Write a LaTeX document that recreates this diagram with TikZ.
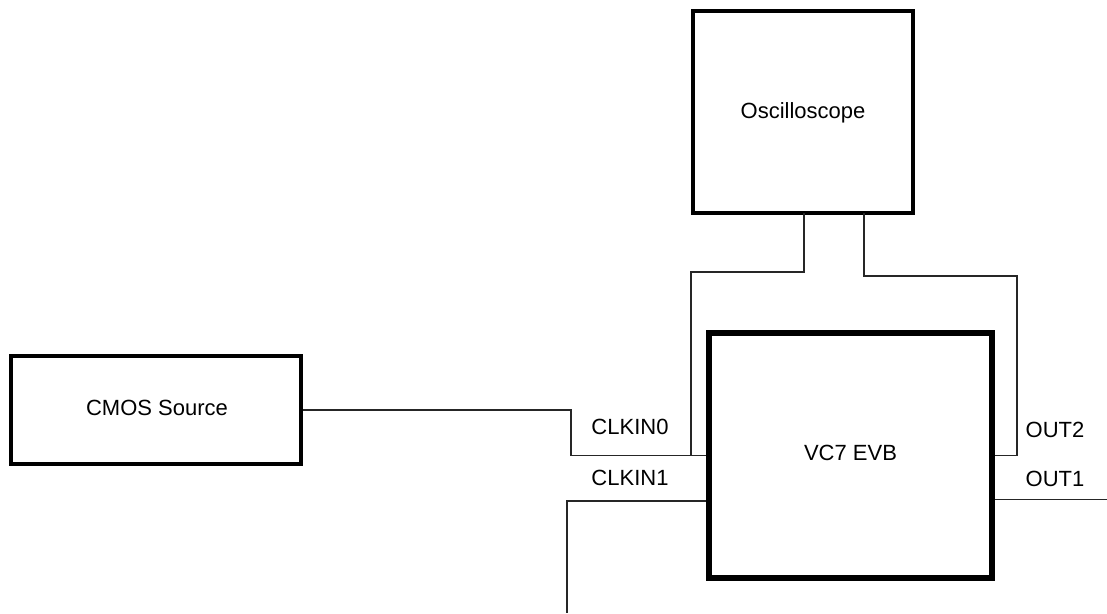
\documentclass[tikz,border=0pt]{standalone}
\usepackage{fontspec}
\setmainfont{Liberation Sans}
\begin{document}
\begin{tikzpicture}[x=1pt,y=-1pt,
  box/.style={draw, line width=4pt, rectangle, inner sep=0pt},
  wire/.style={line width=1.1pt, draw=black!85},
  lbl/.style={inner sep=0pt, font=\fontsize{22}{26}\selectfont, text height=0.72em, text depth=0pt}]
\useasboundingbox (0,0) rectangle (1107,613);
% boxes
\node[box, minimum width=290pt, minimum height=108pt] (cmos) at (156,410) {};
\node[box, minimum width=220pt, minimum height=202pt] (osc) at (803,112) {};
\node[box, minimum width=281pt, minimum height=243pt] (vc7) at (850.5,455.5) {};
% box texts
\node[lbl] (tcmos) at (157,411.5) {CMOS Source};
\node[lbl] (tosc) at (803,115) {Oscilloscope};
\node[lbl] (tvc7) at (850.5,457) {VC7 EVB};
% coordinates
\coordinate (c0a) at (571,410);
\coordinate (c0b) at (571,455.5);
\coordinate (j0) at (691,455.5);
\coordinate (oL) at (804,213);
\coordinate (oLb) at (804,272);
\coordinate (oLc) at (691,272);
\coordinate (oR) at (864,213);
\coordinate (oRb) at (864,276);
\coordinate (oRc) at (1017,276);
\coordinate (oRd) at (1017,455.5);
\coordinate (c1a) at (710,501);
\coordinate (c1b) at (567,501);
\coordinate (c1c) at (567,613);
\coordinate (o1a) at (991,499.5);
\coordinate (o1b) at (1107,499.5);
% connectors
\draw[wire] (cmos.east) -- (c0a) -- (c0b) -- (vc7.west);
\draw[wire] (oL) -- (oLb) -- (oLc) -- (j0);
\draw[wire] (oR) -- (oRb) -- (oRc) -- (oRd) -- (vc7.east);
\draw[wire] (c1a) -- (c1b) -- (c1c);
\draw[wire] (o1a) -- (o1b);
% pin labels
\node[lbl] (lclk0) at (630,431) {CLKIN0};
\node[lbl] (lclk1) at (630,482) {CLKIN1};
\node[lbl] (lout2) at (1055,434) {OUT2};
\node[lbl] (lout1) at (1055,483) {OUT1};
% redraw box border on top of wire ends
\draw[line width=4pt] (vc7.north west) rectangle (vc7.south east);
\end{tikzpicture}
\end{document}
